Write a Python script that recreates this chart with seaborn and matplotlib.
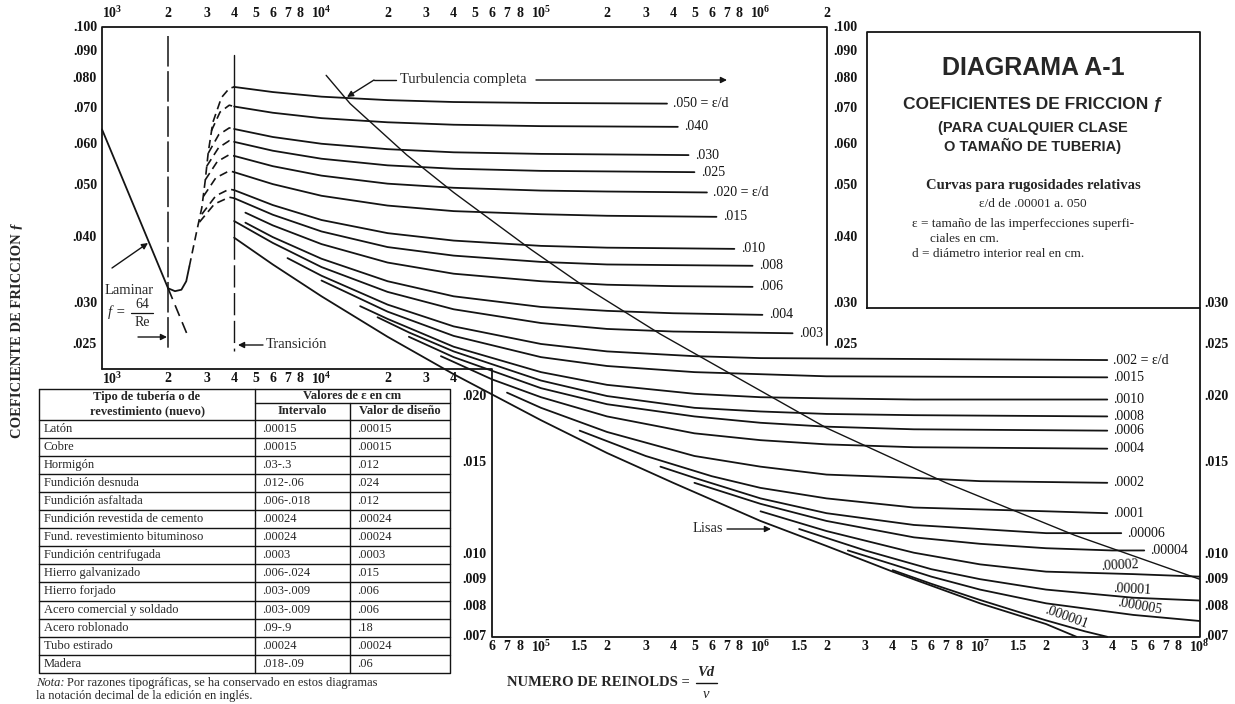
import matplotlib
matplotlib.use('Agg')
import matplotlib.pyplot as plt
import seaborn as sns

TINTA = '#141414'
W, H = 1235, 704

# escala del diagrama (px del Re=1e3 y px por decada; px de f=0.1 y px por decada)
X0, DX = 102, 219.5
Y0, DY = 27, 528


def re_px(x):
    return 1e3 * 10 ** ((x - X0) / DX)


def f_px(y):
    return 0.1 * 10 ** (-(y - Y0) / DY)


rug_sup = ['.050 = ε/d', '.040', '.030', '.025', '.020 = ε/d', '.015',
           '.010', '.008', '.006', '.004', '.003']
re_sup = [
    [4e3, 6e3, 1e4, 2e4, 4e4, 1e5, 3.75e5],
    [4e3, 6e3, 1e4, 2e4, 4e4, 1e5, 4.2e5],
    [4e3, 6e3, 1e4, 2e4, 4e4, 1e5, 4.7e5],
    [4e3, 6e3, 1e4, 2e4, 4e4, 1e5, 5.0e5],
    [4e3, 6e3, 1e4, 2e4, 4e4, 1e5, 2e5, 5.7e5],
    [4e3, 6e3, 1e4, 2e4, 4e4, 1e5, 2e5, 6.3e5],
    [4e3, 6e3, 1e4, 2e4, 4e4, 1e5, 2e5, 4e5, 7.6e5],
    [4e3, 6e3, 1e4, 2e4, 4e4, 1e5, 2e5, 4e5, 9.2e5],
    [4.5e3, 6e3, 1e4, 2e4, 4e4, 1e5, 2e5, 4e5, 9.2e5],
    [4.5e3, 6e3, 1e4, 2e4, 4e4, 1e5, 2e5, 4e5, 1.02e6],
    [4e3, 6e3, 1e4, 2e4, 4e4, 1e5, 2e5, 4e5, 1.40e6],
]
f_sup = [
    [.0770, .0753, .0738, .0727, .0721, .0718, .0716],
    [.0707, .0688, .0672, .0660, .0653, .0649, .0647],
    [.0641, .0619, .0601, .0587, .0579, .0575, .0572],
    [.0606, .0583, .0563, .0547, .0539, .0534, .0531],
    [.0570, .0545, .0523, .0505, .0496, .0490, .0488, .0486],
    [.0531, .0504, .0479, .0459, .0448, .0442, .0439, .0437],
    [.0491, .0460, .0431, .0407, .0394, .0385, .0382, .0381, .0380],
    [.0474, .0441, .0410, .0383, .0369, .0359, .0355, .0354, .0353],
    [.0445, .0421, .0388, .0358, .0341, .0330, .0325, .0323, .0322],
    [.0426, .0400, .0364, .0330, .0309, .0295, .0290, .0287, .0285],
    [.0429, .0390, .0351, .0315, .0292, .0275, .0268, .0265, .0263],
]

rug_inf = ['.002 = ε/d', '.0015', '.0010', '.0008', '.0006', '.0004', '.0002',
           '.0001', '.00006', '.00004', '.00002', '.00001', '.000005', '.000001']
re_inf = [
    [7e3, 1e4, 2e4, 4e4, 1e5, 2e5, 5e5, 1e6, 3.8e7],
    [1e4, 2e4, 4e4, 1e5, 2e5, 5e5, 1e6, 2e6, 3.8e7],
    [1.5e4, 2e4, 4e4, 1e5, 2e5, 5e5, 1e6, 2e6, 5e6, 3.8e7],
    [1.8e4, 2.5e4, 4e4, 1e5, 2e5, 5e5, 1e6, 2e6, 5e6, 3.8e7],
    [2.5e4, 4e4, 1e5, 2e5, 5e5, 1e6, 2e6, 5e6, 3.8e7],
    [3.5e4, 6e4, 1e5, 2e5, 5e5, 1e6, 2e6, 5e6, 3.8e7],
    [7e4, 1e5, 2e5, 5e5, 1e6, 2e6, 5e6, 1e7, 3.8e7],
    [1.5e5, 3e5, 6e5, 1e6, 2e6, 5e6, 1e7, 2e7, 3.8e7],
    [3.5e5, 5e5, 1e6, 2e6, 5e6, 1e7, 2e7, 4.4e7],
    [5e5, 1e6, 2e6, 5e6, 1e7, 2e7, 4e7, 5.6e7],
    [1e6, 2e6, 5e6, 1e7, 2e7, 5e7, 1e8],
    [1.5e6, 3e6, 6e6, 1e7, 2e7, 5e7, 1e8],
    [2.5e6, 4e6, 6e6, 1e7, 2e7, 5e7, 1e8],
    [4e6, 6e6, 1e7, 1.5e7, 2e7, 3e7, 3.8e7],
]
f_inf = [
    [.0365, .0338, .0298, .0271, .0251, .0243, .0238, .0236, .0234],
    [.0331, .0289, .0260, .0237, .0228, .0222, .0220, .0218, .0217],
    [.0296, .0280, .0248, .0222, .0210, .0202, .0199, .0198, .0197, .0197],
    [.0282, .0264, .0243, .0214, .0200, .0190, .0187, .0185, .0184, .0183],
    [.0259, .0237, .0207, .0193, .0183, .0178, .0175, .0173, .0172],
    [.0238, .0215, .0199, .0183, .0170, .0165, .0162, .0160, .0159],
    [.0203, .0190, .0171, .0154, .0147, .0142, .0140, .0138, .0137],
    [.0172, .0154, .0141, .0134, .0128, .0123, .0122, .0121, .0120],
    [.0147, .0140, .0128, .0120, .0114, .0112, .0110, .0110],
    [.0137, .0125, .0116, .0108, .0105, .0103, .0102, .0102],
    [.0121, .0111, .0101, .0096, .0093, .0092, .0091],
    [.0112, .0102, .0094, .0090, .0086, .0083, .0082],
    [.0102, .0096, .0091, .0086, .0081, .0077, .0075],
    [.00936, .00882, .00822, .0078, .00752, .00717, .0070],
]

# tuberias lisas
re_lisa = [4e3, 6e3, 1e4, 2e4, 4e4, 1e5, 2e5, 4e5, 1e6, 2e6, 4e6, 1e7, 2e7, 2.75e7]
f_lisa = [.0399, .0355, .0309, .0259, .0220, .0180, .0156, .0137, .0116, .0104,
          .0093, .0081, .0074, .0070]

# limite de turbulencia completa
re_turb = [1.05e4, 1.35e4, 2.45e4, 4.0e4, 9.0e4, 1.6e5, 3.5e5, 7.8e5, 2.0e6, 7.0e6, 2.7e7, 1e8]
f_turb = [.0810, .0716, .0572, .0486, .0379, .0321, .0262, .0217, .0174, .0137, .0109, .0090]

# laminar f = 64/Re
re_lam = [1e3, 2e3]
f_lam = [.064, .032]
re_lam_p = [2e3, 2.45e3]
f_lam_p = [.032, .0261]

# zona critica
re_codo = [2e3, 2.15e3, 2.3e3, 2.42e3, 2.5e3]
f_codo = [.0320, .0316, .0318, .0330, .0352]
re_esp = [2.5e3, 2.57e3, 2.7e3, 2.85e3, 2.95e3, 3.05e3, 3.2e3, 3.5e3, 3.8e3, 4e3]
f_esp = [.0352, .0372, .0410, .0455, .0510, .0580, .0660, .0735, .0765, .0770]
re_arcos = [[3.15e3, 3.45e3, 3.8e3, 4e3], [3.05e3, 3.4e3, 3.8e3, 4e3],
            [3.0e3, 3.4e3, 3.8e3, 4e3], [2.95e3, 3.35e3, 3.8e3, 4e3],
            [2.9e3, 3.3e3, 3.8e3, 4e3], [2.85e3, 3.3e3, 3.8e3, 4e3],
            [2.78e3, 3.25e3, 3.8e3, 4e3]]
f_arcos = [[.0636, .0690, .0711, .0707], [.0577, .0625, .0644, .0641],
           [.0545, .0591, .0609, .0606], [.0513, .0556, .0573, .0570],
           [.0478, .0518, .0534, .0531], [.0442, .0479, .0493, .0491],
           [.0427, .0462, .0476, .0474]]

# escalas impresas
ticks_sup = [1e3, 2e3, 3e3, 4e3, 5e3, 6e3, 7e3, 8e3, 1e4, 2e4, 3e4, 4e4, 5e4, 6e4,
             7e4, 8e4, 1e5, 2e5, 3e5, 4e5, 5e5, 6e5, 7e5, 8e5, 1e6, 2e6]
etiq_sup = ['10^3', '2', '3', '4', '5', '6', '7', '8', '10^4', '2', '3', '4', '5', '6',
            '7', '8', '10^5', '2', '3', '4', '5', '6', '7', '8', '10^6', '2']
ticks_izq = [1e3, 2e3, 3e3, 4e3, 5e3, 6e3, 7e3, 8e3, 1e4, 2e4, 3e4, 4e4]
etiq_izq = ['10^3', '2', '3', '4', '5', '6', '7', '8', '10^4', '2', '3', '4']
ticks_inf = [6e4, 7e4, 8e4, 1e5, 1.5e5, 2e5, 3e5, 4e5, 5e5, 6e5, 7e5, 8e5, 1e6, 1.5e6,
             2e6, 3e6, 4e6, 5e6, 6e6, 7e6, 8e6, 1e7, 1.5e7, 2e7, 3e7, 4e7, 5e7, 6e7,
             7e7, 8e7, 1e8]
etiq_inf = ['6', '7', '8', '10^5', '1.5', '2', '3', '4', '5', '6', '7', '8', '10^6',
            '1.5', '2', '3', '4', '5', '6', '7', '8', '10^7', '1.5', '2', '3', '4',
            '5', '6', '7', '8', '10^8']
f_ticks_sup = [.100, .090, .080, .070, .060, .050, .040, .030, .025]
f_etiq_sup = ['.100', '.090', '.080', '.070', '.060', '.050', '.040', '.030', '.025']
f_ticks_izq = [.020, .015, .010, .009, .008, .007]
f_etiq_izq = ['.020', '.015', '.010', '.009', '.008', '.007']
f_ticks_der = [.030, .025, .020, .015, .010, .009, .008, .007]
f_etiq_der = ['.030', '.025', '.020', '.015', '.010', '.009', '.008', '.007']

# tabla de rugosidades
tipos = ['Latón', 'Cobre', 'Hormigón', 'Fundición desnuda', 'Fundición asfaltada',
         'Fundición revestida de cemento', 'Fund. revestimiento bituminoso',
         'Fundición centrifugada', 'Hierro galvanizado', 'Hierro forjado',
         'Acero comercial y soldado', 'Acero roblonado', 'Tubo estirado', 'Madera']
intervalo = ['.00015', '.00015', '.03-.3', '.012-.06', '.006-.018', '.00024', '.00024',
             '.0003', '.006-.024', '.003-.009', '.003-.009', '.09-.9', '.00024', '.018-.09']
diseno = ['.00015', '.00015', '.012', '.024', '.012', '.00024', '.00024', '.0003',
          '.015', '.006', '.006', '.18', '.00024', '.06']

# ---------------- estilo ----------------
sns.set_theme(style='white')
plt.rcParams['font.family'] = ['Liberation Serif', 'DejaVu Serif']
plt.rcParams['mathtext.fontset'] = 'custom'
plt.rcParams['mathtext.rm'] = 'Liberation Serif'
plt.rcParams['mathtext.it'] = 'Liberation Serif:italic'
plt.rcParams['mathtext.bf'] = 'Liberation Serif:bold'

fig = plt.figure(figsize=(W / 100, H / 100), dpi=100)
fig.patch.set_facecolor('white')
ax = fig.add_axes([0, 0, 1, 1])
ax.set_xscale('log')
ax.set_yscale('log')

# curvas
for re, f in zip(re_sup + re_inf + [re_lisa], f_sup + f_inf + [f_lisa]):
    sns.lineplot(x=re, y=f, ax=ax, color=TINTA, linewidth=1.3, estimator=None,
                 sort=False, legend=False)
sns.lineplot(x=re_turb, y=f_turb, ax=ax, color=TINTA, linewidth=1.0,
             estimator=None, sort=False, legend=False)
sns.lineplot(x=re_lam, y=f_lam, ax=ax, color=TINTA, linewidth=1.3,
             estimator=None, sort=False, legend=False)
sns.lineplot(x=re_codo, y=f_codo, ax=ax, color=TINTA, linewidth=1.3,
             estimator=None, sort=False, legend=False)
ax.plot(re_lam_p, f_lam_p, color=TINTA, lw=1.2, dashes=(7, 4))
ax.plot(re_esp, f_esp, color=TINTA, lw=1.2, dashes=(5, 3))
for re, f in zip(re_arcos, f_arcos):
    ax.plot(re, f, color=TINTA, lw=1.2, dashes=(5, 3))

# lineas de Re = 2000 y Re = 4000
ax.plot([2e3, 2e3], [.096, .0243], color=TINTA, lw=1.1, dashes=(20, 3))
ax.plot([4e3, 4e3], [.0885, .040], color=TINTA, lw=1.0)
ax.plot([4e3, 4e3], [.040, .0243], color=TINTA, lw=1.0, dashes=(16, 4))

# marcos
f_base = f_px(369)
f_caja = f_px(308)
ax.plot([1e3, 1e3, 2e6, 2e6], [f_base, .1, .1, .025], color=TINTA, lw=1.3)
ax.plot([1e3, 6e4, 6e4, 1e8, 1e8], [f_base, f_base, .007, .007, f_caja], color=TINTA, lw=1.3)
ax.plot([re_px(867), re_px(867), 1e8, 1e8, re_px(867)],
        [f_caja, f_px(32), f_px(32), f_caja, f_caja], color=TINTA, lw=1.3)

# etiquetas de las curvas
for re, f, lab in zip(re_sup, f_sup, rug_sup):
    ax.text(re[-1] * 1.07, f[-1], lab, fontsize=10, va='center', ha='left', color=TINTA)
for re, f, lab in zip(re_inf[:10], f_inf[:10], rug_inf[:10]):
    ax.text(re[-1] * 1.06, f[-1], lab, fontsize=10, va='center', ha='left', color=TINTA)
for lab, xp, yp, rot in zip(rug_inf[10:], [1120, 1132, 1140, 1066],
                            [566, 589, 606, 617], [3, -3, -10, -20]):
    ax.text(re_px(xp), f_px(yp), lab, fontsize=10, va='center', ha='center',
            rotation=rot, color=TINTA)


def etiqueta(t):
    return r'$\mathbf{10^{%s}}$' % t[3:] if t.startswith('10^') else t


kw = dict(fontsize=10, fontweight='bold', color=TINTA, va='center')
for i, (t, lab) in enumerate(zip(ticks_sup, etiq_sup)):
    ax.text(t, f_px(13), etiqueta(lab), ha='left' if i == 0 else 'center', **kw)
for i, (t, lab) in enumerate(zip(ticks_izq, etiq_izq)):
    ax.text(t, f_px(379), etiqueta(lab), ha='left' if i == 0 else 'center', **kw)
for t, lab in zip(ticks_inf, etiq_inf):
    ax.text(t, f_px(647), etiqueta(lab), ha='center', **kw)
for t, lab in zip(f_ticks_sup, f_etiq_sup):
    ax.text(re_px(97), t, lab, ha='right', **kw)
    ax.text(re_px(833), t, lab, ha='left', **kw)
for t, lab in zip(f_ticks_izq, f_etiq_izq):
    ax.text(re_px(487), t, lab, ha='right', **kw)
for t, lab in zip(f_ticks_der, f_etiq_der):
    ax.text(re_px(1204), t, lab, ha='left', **kw)

ax.set_xlim(re_px(0), re_px(W))
ax.set_ylim(f_px(H), f_px(0))
ax.axis('off')

# capa en pixeles para textos y tabla
axp = fig.add_axes([0, 0, 1, 1], zorder=3)
axp.set_xlim(0, W)
axp.set_ylim(H, 0)
axp.axis('off')
axp.patch.set_visible(False)
flecha = dict(arrowstyle='-|>', color=TINTA, lw=1.0, mutation_scale=9, shrinkA=0, shrinkB=0)

axp.text(400, 79, 'Turbulencia completa', fontsize=10.5, va='center', ha='left')
axp.plot([396, 374], [80, 80], color=TINTA, lw=1.0)
axp.annotate('', xy=(347, 97), xytext=(374, 80), arrowprops=flecha)
axp.annotate('', xy=(727, 80), xytext=(536, 80), arrowprops=flecha)

axp.text(105, 290, 'Laminar', fontsize=10.5, va='center', ha='left')
axp.annotate('', xy=(148, 243), xytext=(112, 268), arrowprops=flecha)
axp.text(108, 312, 'f =', fontsize=10.5, style='italic', va='center', ha='left')
axp.text(142, 304, '64', fontsize=10, va='center', ha='center')
axp.plot([131, 153], [313, 313], color=TINTA, lw=0.9)
axp.text(142, 323, 'Re', fontsize=10, va='center', ha='center')
axp.annotate('', xy=(167, 337), xytext=(138, 337), arrowprops=flecha)
axp.annotate('', xy=(238, 345), xytext=(263, 345), arrowprops=flecha)
axp.text(266, 345, 'Transición', fontsize=10.5, va='center', ha='left')

axp.text(693, 529, 'Lisas', fontsize=10.5, va='center', ha='left')
axp.annotate('', xy=(771, 529), xytext=(727, 529), arrowprops=flecha)

# titulos de ejes
axp.text(17, 330, 'COEFICIENTE DE FRICCION ƒ', rotation=90, fontsize=10.5,
         fontweight='bold', ha='center', va='center')
axp.text(690, 683, 'NUMERO DE REINOLDS =', fontsize=10.5, fontweight='bold',
         ha='right', va='center')
axp.text(706, 672, 'Vd', fontsize=10.5, fontweight='bold', style='italic',
         ha='center', va='center')
axp.plot([696, 717], [683, 683], color=TINTA, lw=1.0)
axp.text(706, 694, 'ν', fontsize=10.5, style='italic', ha='center', va='center')

# recuadro del titulo
cx = 1033
sans = ['Liberation Sans', 'DejaVu Sans']
axp.text(cx, 68, 'DIAGRAMA A-1', family=sans, fontsize=18, fontweight='bold', ha='center', va='center')
axp.text(cx, 105, 'COEFICIENTES DE FRICCION ƒ', family=sans, fontsize=12.5,
         fontweight='bold', ha='center', va='center')
axp.text(cx, 128, '(PARA CUALQUIER CLASE', family=sans, fontsize=10.5,
         fontweight='bold', ha='center', va='center')
axp.text(cx, 146, 'O TAMAÑO DE TUBERIA)', family=sans, fontsize=10.5,
         fontweight='bold', ha='center', va='center')
axp.text(cx, 186, 'Curvas para rugosidades relativas', fontsize=10.5,
         fontweight='bold', ha='center', va='center')
axp.text(cx, 204, 'ε/d de .00001 a. 050', fontsize=9.5, ha='center', va='center')
axp.text(912, 224, 'ε = tamaño de las imperfecciones superfi-', fontsize=9.5, va='center')
axp.text(930, 239, 'ciales en cm.', fontsize=9.5, va='center')
axp.text(912, 254, 'd = diámetro interior real en cm.', fontsize=9.5, va='center')

# tabla
x_t = [39, 255, 350, 450]
y_top, y_h1, y_h2, fila = 389, 403, 420, 18.05
y_bot = y_h2 + fila * len(tipos)
lt = dict(color=TINTA, lw=1.0)
axp.plot([x_t[0], x_t[3], x_t[3], x_t[0], x_t[0]], [y_top, y_top, y_bot, y_bot, y_top], **lt)
axp.plot([x_t[1], x_t[1]], [y_top, y_bot], **lt)
axp.plot([x_t[2], x_t[2]], [y_h1, y_bot], **lt)
axp.plot([x_t[1], x_t[3]], [y_h1, y_h1], **lt)
for i in range(len(tipos)):
    yl = y_h2 + i * fila
    axp.plot([x_t[0], x_t[3]], [yl, yl], **lt)
    yc = yl + fila / 2
    axp.text(x_t[0] + 5, yc, tipos[i], fontsize=9, va='center')
    axp.text(x_t[1] + 7, yc, intervalo[i], fontsize=9, va='center')
    axp.text(x_t[2] + 7, yc, diseno[i], fontsize=9, va='center')
axp.text((x_t[0] + x_t[1]) / 2, 397, 'Tipo de tubería o de', fontsize=9,
         fontweight='bold', ha='center', va='center')
axp.text((x_t[0] + x_t[1]) / 2, 411, 'revestimiento (nuevo)', fontsize=9,
         fontweight='bold', ha='center', va='center')
axp.text((x_t[1] + x_t[3]) / 2, 396, 'Valores de ε en cm', fontsize=9,
         fontweight='bold', ha='center', va='center')
axp.text((x_t[1] + x_t[2]) / 2, 411.5, 'Intervalo', fontsize=9,
         fontweight='bold', ha='center', va='center')
axp.text((x_t[2] + x_t[3]) / 2, 411.5, 'Valor de diseño', fontsize=9,
         fontweight='bold', ha='center', va='center')

axp.text(36, 683, 'Nota:', fontsize=9, style='italic', va='center')
axp.text(67, 683, 'Por razones tipográficas, se ha conservado en estos diagramas',
         fontsize=9, va='center')
axp.text(36, 696, 'la notación decimal de la edición en inglés.', fontsize=9, va='center')

fig.savefig('out.png', dpi=100, facecolor='white')
